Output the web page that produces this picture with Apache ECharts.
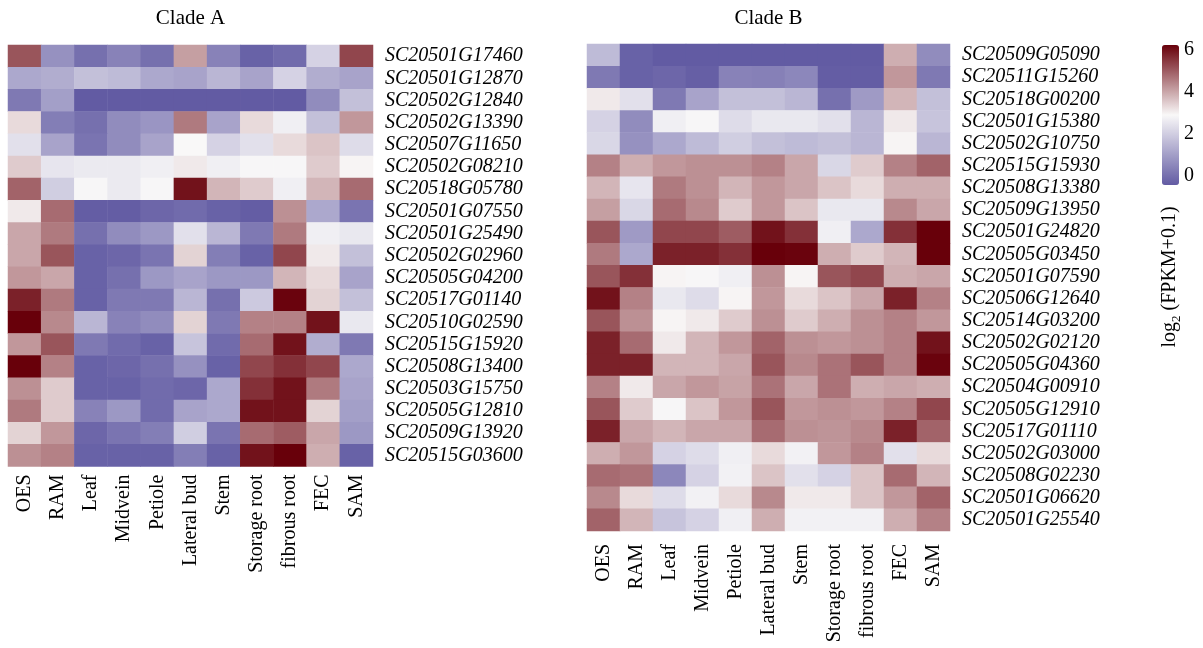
<!DOCTYPE html>
<html>
<head>
<meta charset="utf-8">
<script src="https://cdn.jsdelivr.net/npm/echarts@6/dist/echarts.min.js"></script>
<style>
html,body{margin:0;padding:0;background:#fff;}
#chart{width:1203px;height:648px;}
</style>
</head>
<body>
<div id="chart"></div>
<script>
var tissues = ['OES','RAM','Leaf','Midvein','Petiole','Lateral bud','Stem','Storage root','fibrous root','FEC','SAM'];

var genesA = ['SC20501G17460','SC20501G12870','SC20502G12840','SC20502G13390','SC20507G11650','SC20502G08210','SC20518G05780','SC20501G07550','SC20501G25490','SC20502G02960','SC20505G04200','SC20517G01140','SC20510G02590','SC20515G15920','SC20508G13400','SC20503G15750','SC20505G12810','SC20509G13920','SC20515G03600'];

var genesB = ['SC20509G05090','SC20511G15260','SC20518G00200','SC20501G15380','SC20502G10750','SC20515G15930','SC20508G13380','SC20509G13950','SC20501G24820','SC20505G03450','SC20501G07590','SC20506G12640','SC20514G03200','SC20502G02120','SC20505G04360','SC20504G00910','SC20505G12910','SC20517G01110','SC20502G03000','SC20508G02230','SC20501G06620','SC20501G25540'];

var valuesA = [
  [5.1,0.7,0.0,0.4,0.0,4.1,0.4,-0.3,-0.1,2.1,5.3],
  [1.2,1.3,1.7,1.6,1.2,1.1,1.5,1.1,2.1,1.3,1.1],
  [0.2,1.0,-0.5,-0.5,-0.5,-0.5,-0.5,-0.5,-0.5,0.6,1.7],
  [3.3,0.3,0.0,0.6,0.8,4.6,1.1,3.3,2.7,1.7,4.2],
  [2.4,1.1,0.1,0.6,1.1,2.9,2.1,2.4,3.3,3.6,2.3],
  [3.5,2.5,2.6,2.6,2.7,3.1,2.7,2.85,2.85,3.5,2.95],
  [4.9,2.0,2.85,2.6,2.85,6.0,3.8,3.5,2.7,3.8,4.8],
  [3.1,4.8,-0.4,-0.4,-0.2,-0.1,-0.3,-0.4,4.3,1.2,0.1],
  [4.0,4.6,0.0,0.6,0.85,2.4,1.5,0.2,4.6,2.7,2.55],
  [4.0,5.1,-0.3,-0.2,0.1,3.4,0.3,-0.3,5.3,3.1,1.7],
  [4.2,4.0,-0.3,0.0,0.85,1.1,0.85,0.85,3.8,3.3,1.1],
  [5.8,4.6,-0.3,0.2,0.2,1.5,0.0,1.9,6.2,3.4,1.7],
  [6.3,4.4,1.5,0.4,0.6,3.4,0.2,4.5,4.5,6.0,2.55],
  [4.2,5.1,0.2,-0.1,-0.3,1.8,-0.1,4.8,6.0,1.3,0.2],
  [6.3,4.5,-0.3,-0.2,0.0,0.7,-0.3,5.3,5.6,5.3,1.2],
  [4.3,3.5,-0.3,-0.3,-0.1,-0.2,1.2,5.6,6.0,4.6,1.1],
  [4.6,3.5,0.4,0.85,-0.1,1.1,1.2,6.0,6.0,3.4,1.0],
  [3.4,4.2,-0.2,0.1,0.3,2.0,0.1,4.8,5.0,4.0,0.85],
  [4.3,4.5,-0.3,-0.3,-0.3,0.3,-0.3,6.0,6.3,3.9,-0.3]
];

var valuesB = [
  [1.6,-0.3,-0.45,-0.45,-0.45,-0.45,-0.45,-0.45,-0.45,3.9,0.6],
  [0.2,-0.3,-0.2,-0.35,0.4,0.35,0.5,-0.4,-0.4,4.2,0.2],
  [3.1,2.4,0.2,1.1,1.7,1.7,1.5,0.0,0.9,3.8,1.7],
  [2.1,0.6,2.7,2.85,2.3,2.55,2.55,2.4,1.5,3.1,1.8],
  [2.2,0.7,1.2,1.6,2.0,1.7,1.6,1.7,1.5,2.95,1.5],
  [4.5,3.9,4.2,4.3,4.3,4.5,4.0,2.2,3.5,4.5,4.9],
  [3.8,2.5,4.6,4.3,3.8,4.2,4.0,3.6,3.3,3.9,3.9],
  [4.1,2.2,4.8,4.4,3.5,4.2,3.6,2.55,2.55,4.4,4.0],
  [5.1,0.9,5.3,5.3,5.0,6.0,5.6,2.7,1.2,5.6,6.3],
  [4.6,1.2,5.8,5.8,5.6,6.3,6.2,3.9,3.5,3.8,6.3],
  [5.1,5.6,2.95,2.85,2.7,4.3,2.95,5.1,5.3,3.9,4.0],
  [6.0,4.5,2.55,2.3,2.95,4.2,3.3,3.6,4.0,5.8,4.5],
  [5.1,4.3,2.95,3.1,3.5,4.3,3.5,3.9,4.3,4.5,4.2],
  [5.8,4.8,3.1,3.8,4.2,4.9,4.3,4.2,4.3,4.5,6.0],
  [5.8,5.8,3.8,3.8,4.0,5.1,4.4,4.7,5.1,4.5,6.2],
  [4.5,3.1,4.0,4.2,4.05,4.7,4.0,4.7,3.9,4.0,3.9],
  [5.1,3.5,2.85,3.6,4.2,5.1,4.2,4.3,4.2,4.5,5.3],
  [5.8,4.0,3.8,4.0,4.0,4.8,4.3,4.25,4.4,5.8,4.9],
  [3.9,4.2,2.1,2.3,2.7,3.3,2.75,4.2,4.5,2.4,3.3],
  [4.8,4.7,0.5,2.1,2.75,3.6,2.4,2.1,3.6,4.8,3.8],
  [4.4,3.3,2.3,2.75,3.3,4.4,3.1,3.1,3.6,4.2,4.9],
  [4.9,3.8,1.8,2.1,2.7,3.9,2.75,2.75,2.75,3.9,4.5]
];

var legendTicks = [0, 2, 4, 6];
var colorMin = -0.44, colorMax = 6.24;

function toCells(vals) {
  var out = [];
  for (var r = 0; r < vals.length; r++) {
    for (var c = 0; c < vals[r].length; c++) out.push([c, r, vals[r][c]]);
  }
  return out;
}

var FONT = '"Liberation Serif", "Times New Roman", serif';

function xAxisFor(grid, margin) {
  return {
    type: 'category', gridIndex: grid, data: tissues, position: 'bottom',
    axisLine: {show: false}, axisTick: {show: false}, splitLine: {show: false},
    axisLabel: {rotate: 90, interval: 0, margin: margin, color: '#000', fontFamily: FONT, fontSize: 20}
  };
}
function yAxisFor(grid, genes) {
  return {
    type: 'category', gridIndex: grid, data: genes, inverse: true, position: 'right',
    axisLine: {show: false}, axisTick: {show: false}, splitLine: {show: false},
    axisLabel: {interval: 0, margin: 12, color: '#000', fontFamily: FONT, fontStyle: 'italic', fontSize: 20}
  };
}

var chart = echarts.init(document.getElementById('chart'), null, {renderer: 'canvas'});
chart.setOption({
  animation: false,
  backgroundColor: '#fff',
  grid: [
    {left: 8, top: 45, width: 365, height: 421.5},
    {left: 587, top: 44, width: 363, height: 487},
    {left: 1162, top: 45, width: 17, height: 140}
  ],
  xAxis: [
    xAxisFor(0, 8),
    xAxisFor(1, 13),
    {type: 'value', gridIndex: 2, show: false, min: 0, max: 1}
  ],
  yAxis: [
    yAxisFor(0, genesA),
    yAxisFor(1, genesB),
    {type: 'value', gridIndex: 2, min: colorMin, max: colorMax, position: 'right',
     axisLine: {show: false}, axisTick: {show: false}, splitLine: {show: false},
     axisLabel: {customValues: legendTicks, margin: 5, color: '#000', fontFamily: FONT, fontSize: 20}}
  ],
  visualMap: {
    type: 'continuous', min: colorMin, max: colorMax, calculable: false,
    seriesIndex: [0, 1], orient: 'vertical', left: 1162, top: 45, padding: 0,
    itemWidth: 17, itemHeight: 140, text: null, showLabel: false,
    inRange: {color: ['#625ba3', '#f9f8f8', '#68000a']}
  },
  series: [
    {type: 'heatmap', xAxisIndex: 0, yAxisIndex: 0, data: toCells(valuesA), itemStyle: {borderWidth: 0}},
    {type: 'heatmap', xAxisIndex: 1, yAxisIndex: 1, data: toCells(valuesB), itemStyle: {borderWidth: 0}}
  ],
  graphic: [
    {type: 'text', x: 190.5, y: 18, style: {text: 'Clade A', fontFamily: FONT, fontSize: 21, fill: '#000', align: 'center', verticalAlign: 'middle'}},
    {type: 'text', x: 768.5, y: 18, style: {text: 'Clade B', fontFamily: FONT, fontSize: 21, fill: '#000', align: 'center', verticalAlign: 'middle'}},
    {type: 'text', x: 1170, y: 277, rotation: Math.PI / 2,
     style: {text: '{a|log}{b|2}{a| (FPKM+0.1)}', align: 'center', verticalAlign: 'middle',
       rich: {
         a: {fontFamily: FONT, fontSize: 20, fill: '#000', lineHeight: 26, verticalAlign: 'middle'},
         b: {fontFamily: FONT, fontSize: 13, fill: '#000', lineHeight: 26, verticalAlign: 'bottom', padding: [8, 0, 0, 0]}
       }}}
  ]
});
</script>
</body>
</html>
